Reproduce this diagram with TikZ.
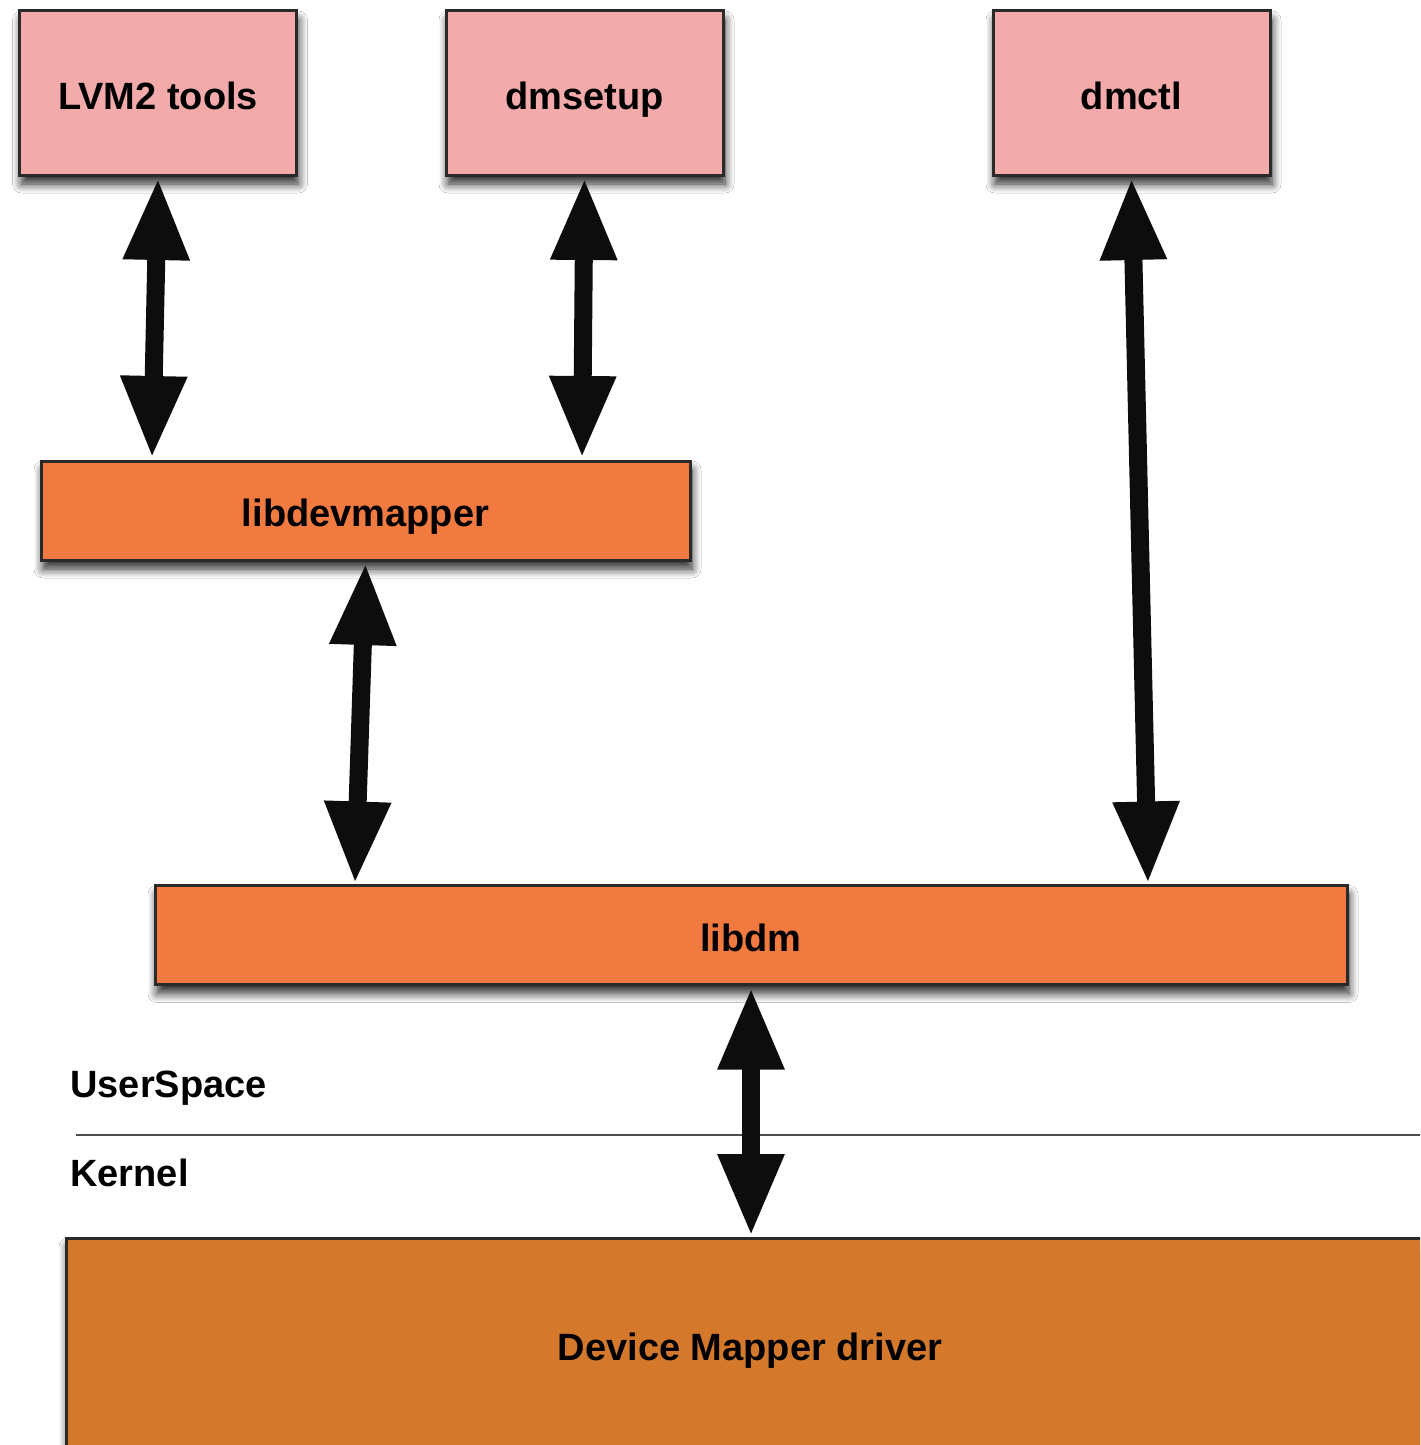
\documentclass[tikz,border=0pt]{standalone}
\usepackage{fontspec}
\setmainfont{Liberation Sans}
\usetikzlibrary{arrows.meta,shadows.blur}
\definecolor{toolpink}{HTML}{F2AAAA}
\definecolor{liborange}{HTML}{F07A40}
\definecolor{drvorange}{HTML}{D4792C}
\definecolor{edgegray}{HTML}{2A2A2A}
\tikzset{
  boxbase/.style={draw=edgegray, line width=1.5pt, inner sep=0pt, outer sep=0pt,
    font=\fontsize{19pt}{22pt}\selectfont\bfseries, text height=16.1pt, text depth=0pt,
    blur shadow={shadow xshift=1pt, shadow yshift=-4.5pt, shadow blur steps=10, shadow opacity=85, shadow blur radius=4.5pt}},
  toolbox/.style={boxbase, fill=toolpink, minimum width=138.5pt, minimum height=82pt},
  libbox/.style={boxbase, fill=liborange, minimum height=49.5pt},
  drvbox/.style={boxbase, fill=drvorange},
  biarrow/.style={line width=9pt, draw={black!95},
    {Triangle[length=41pt,width=31pt]}-{Triangle[length=41pt,width=31pt]}},
  sidelabel/.style={anchor=west, inner sep=0pt, font=\fontsize{19pt}{22pt}\selectfont\bfseries}
}
\begin{document}
\begin{tikzpicture}[x=0.5pt,y=-0.5pt]
\useasboundingbox (0,0) rectangle (1420,1445);
\clip (0,0) rectangle (1420,1445);
\fill[white] (0,0) rectangle (1420,1445);
% boxes
\node[toolbox] (lvm) at (158,93) {LVM2 tools};
\node[toolbox] (dmsetup) at (584.5,93) {dmsetup};
\node[toolbox] (dmctl) at (1131.5,93) {dmctl};
\node[libbox, minimum width=324.5pt] (libdev) at (365.5,510.5) {libdevmapper};
\node[libbox, minimum width=596pt] (libdm) at (751,935) {libdm};
\node[drvbox, minimum width=700pt, minimum height=230pt] (drv) at (766,1468) {};
\node[font=\fontsize{19pt}{22pt}\selectfont\bfseries, text height=16.1pt, text depth=0pt, inner sep=0pt] (drvtext) at (750,1344) {Device Mapper driver};
% separator
\coordinate (sepL) at (76,1135);
\coordinate (sepR) at (1425,1135);
\draw[line width=1pt, draw=black!70] (sepL) -- (sepR);
\node[sidelabel] (user) at (70,1088) {UserSpace};
\node[sidelabel] (kern) at (70,1173) {Kernel};
% arrows
\draw[biarrow] ([yshift=-1.5pt]lvm.south) -- ([xshift=-106.75pt, yshift=1.5pt]libdev.north);
\draw[biarrow] ([yshift=-1.5pt]dmsetup.south) -- ([xshift=108.25pt, yshift=1.5pt]libdev.north);
\draw[biarrow] ([yshift=-1.5pt]dmctl.south) -- ([xshift=198.5pt, yshift=1pt]libdm.north);
\draw[biarrow] ([yshift=-1.5pt]libdev.south) -- ([xshift=-198pt, yshift=1pt]libdm.north);
\draw[biarrow] ([yshift=-1.5pt]libdm.south) -- ([xshift=-7.5pt, yshift=1pt]drv.north);
\end{tikzpicture}
\end{document}
